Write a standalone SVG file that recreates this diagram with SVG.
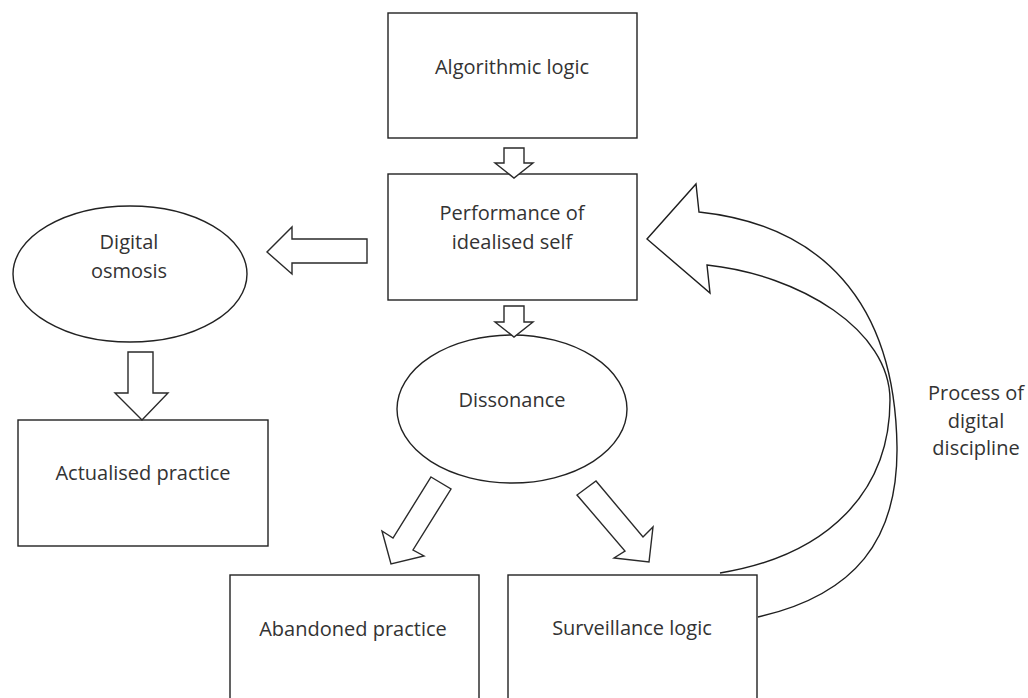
<svg xmlns="http://www.w3.org/2000/svg" width="1028" height="698" viewBox="0 0 1028 698">
  <style>
    .box { fill: #ffffff; stroke: #222222; stroke-width: 1.4; }
    .blk { fill: #ffffff; stroke: #2a2a2a; stroke-width: 1.4; stroke-linejoin: miter; }
    .curve { fill: none; stroke: #1f1f1f; stroke-width: 1.4; stroke-linejoin: miter; }
    .lbl { font-family: "Open Sans", "Liberation Sans", sans-serif; font-size: 20px; fill: #333333; text-anchor: middle; }
  </style>
  <rect width="1028" height="698" fill="#ffffff"/>

  <g id="node-algorithmic-logic">
    <rect class="box" x="388" y="13" width="249" height="125"/>
    <text class="lbl" x="512" y="74">Algorithmic logic</text>
  </g>

  <g id="node-performance">
    <rect class="box" x="388" y="174" width="249" height="126"/>
    <text class="lbl" x="512" y="220">Performance of</text>
    <text class="lbl" x="512" y="249">idealised self</text>
  </g>

  <g id="node-digital-osmosis">
    <ellipse class="box" cx="130" cy="274" rx="117" ry="68"/>
    <text class="lbl" x="129" y="249">Digital</text>
    <text class="lbl" x="129" y="278">osmosis</text>
  </g>

  <g id="node-dissonance">
    <ellipse class="box" cx="512" cy="409" rx="115" ry="74"/>
    <text class="lbl" x="512" y="407">Dissonance</text>
  </g>

  <g id="node-actualised-practice">
    <rect class="box" x="18" y="420" width="250" height="126"/>
    <text class="lbl" x="143" y="480">Actualised practice</text>
  </g>

  <g id="node-abandoned-practice">
    <rect class="box" x="230" y="575" width="249" height="130"/>
    <text class="lbl" x="353" y="636">Abandoned practice</text>
  </g>

  <g id="node-surveillance-logic">
    <rect class="box" x="508" y="575" width="249" height="130"/>
    <text class="lbl" x="632" y="635">Surveillance logic</text>
  </g>

  <g id="connectors">
    <!-- block arrow: algorithmic logic -> performance -->
    <polygon class="blk" points="504,148 524,148 524,163 533,163 514,178 495,163 504,163"/>
    <!-- block arrow: performance -> dissonance -->
    <polygon class="blk" points="504,306 524,306 524,322 533,322 514,337 495,322 504,322"/>
    <!-- block arrow: performance -> digital osmosis -->
    <polygon class="blk" points="367,239 367,263 292,263 292,274 267,252 292,227 292,239"/>
    <!-- block arrow: digital osmosis -> actualised practice -->
    <polygon class="blk" points="128,352 153,352 153,393 168,393 142,420 115,393 128,393"/>
    <!-- block arrow: dissonance -> abandoned practice -->
    <polygon class="blk" points="431,477 451,489 413,550 424,556 391,564 382,531 393,538"/>
    <!-- block arrow: dissonance -> surveillance logic -->
    <polygon class="blk" points="596,481 643,537 653,527 649,562 614,558 625,551 577,495"/>
    <!-- curved block arrow: surveillance logic back to performance -->
    <path class="curve" d="M758,617 C855,595 898,540 897,447 C895,300 820,225 699,212 L696,184 L647,239 L710,293 L707,265 C800,275 890,330 890,400 C890,490 830,555 720,573"/>
    <text class="lbl" x="976" y="400">Process of</text>
    <text class="lbl" x="976" y="428">digital</text>
    <text class="lbl" x="976" y="455">discipline</text>
  </g>
</svg>
